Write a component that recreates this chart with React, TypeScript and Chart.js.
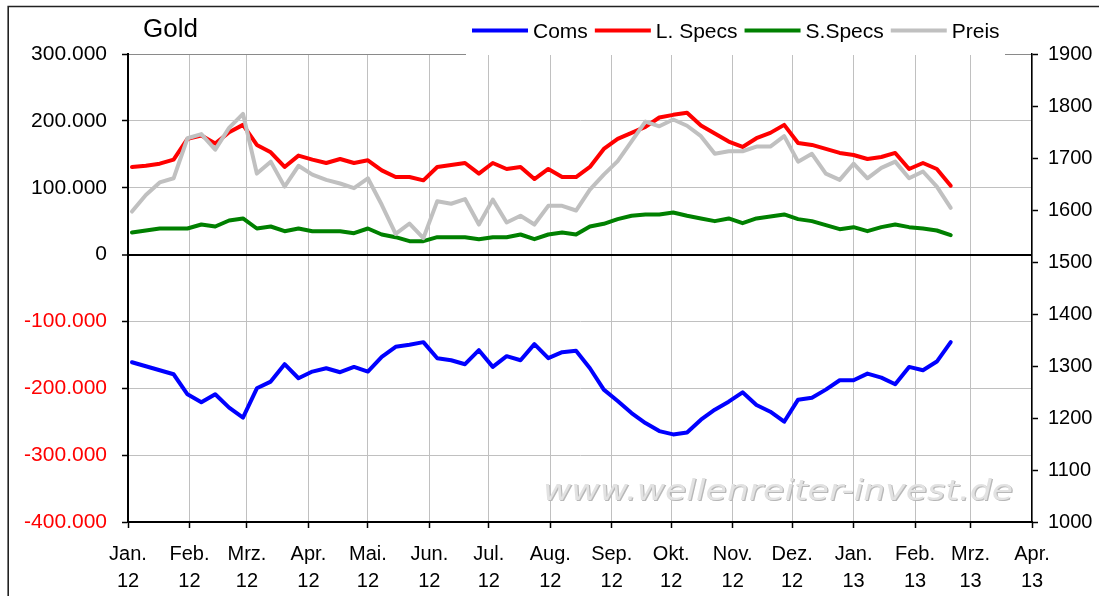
import React, { useEffect, useRef } from 'react';
import { Chart, registerables } from 'chart.js';

Chart.register(...registerables);

const chartTitle = 'Gold';
const watermark = 'www.wellenreiter-invest.de';

const weekDates = [
  '2012-01-03', '2012-01-10', '2012-01-17', '2012-01-24', '2012-01-31',
  '2012-02-07', '2012-02-14', '2012-02-21', '2012-02-28',
  '2012-03-06', '2012-03-13', '2012-03-20', '2012-03-27',
  '2012-04-03', '2012-04-10', '2012-04-17', '2012-04-24',
  '2012-05-01', '2012-05-08', '2012-05-15', '2012-05-22', '2012-05-29',
  '2012-06-05', '2012-06-12', '2012-06-19', '2012-06-26',
  '2012-07-03', '2012-07-10', '2012-07-17', '2012-07-24', '2012-07-31',
  '2012-08-07', '2012-08-14', '2012-08-21', '2012-08-28',
  '2012-09-04', '2012-09-11', '2012-09-18', '2012-09-25',
  '2012-10-02', '2012-10-09', '2012-10-16', '2012-10-23', '2012-10-30',
  '2012-11-06', '2012-11-13', '2012-11-20', '2012-11-27',
  '2012-12-04', '2012-12-11', '2012-12-18', '2012-12-25',
  '2013-01-01', '2013-01-08', '2013-01-15', '2013-01-22', '2013-01-29',
  '2013-02-05', '2013-02-12', '2013-02-19',
];

const monthTickDates = [
  '2012-01-01', '2012-02-01', '2012-03-01', '2012-04-01', '2012-05-01', '2012-06-01',
  '2012-07-01', '2012-08-01', '2012-09-01', '2012-10-01', '2012-11-01', '2012-12-01',
  '2013-01-01', '2013-02-01', '2013-03-01', '2013-04-01',
];
const monthLabels = ['Jan.', 'Feb.', 'Mrz.', 'Apr.', 'Mai.', 'Jun.', 'Jul.', 'Aug.', 'Sep.', 'Okt.', 'Nov.', 'Dez.', 'Jan.', 'Feb.', 'Mrz.', 'Apr.'];
const yearLabels = ['12', '12', '12', '12', '12', '12', '12', '12', '12', '12', '12', '12', '13', '13', '13', '13'];

const coms = [
  -161000, -167000, -173000, -179000, -209000, -221000, -209000, -229000, -244000, -200000,
  -190000, -164000, -185000, -175000, -170000, -176000, -168000, -175000, -153000, -138000,
  -135000, -131000, -155000, -158000, -164000, -143000, -168000, -152000, -158000, -134000,
  -155000, -146000, -144000, -170000, -202000, -219000, -237000, -252000, -264000, -269000,
  -266000, -247000, -232000, -220000, -206000, -225000, -235000, -250000, -217000, -214000,
  -202000, -188000, -188000, -178000, -184000, -194000, -168000, -173000, -160000, -131000,
];
const lSpecs = [
  131000, 133000, 136000, 142000, 173000, 178000, 166000, 183000, 194000, 164000,
  153000, 131000, 148000, 142000, 137000, 143000, 137000, 141000, 126000, 116000,
  116000, 111000, 131000, 134000, 137000, 121000, 137000, 128000, 131000, 113000,
  128000, 116000, 116000, 131000, 158000, 173000, 182000, 191000, 205000, 209000,
  212000, 193000, 181000, 169000, 161000, 174000, 182000, 194000, 167000, 164000,
  158000, 152000, 149000, 143000, 146000, 152000, 128000, 137000, 128000, 103000,
];
const sSpecs = [
  33000, 36000, 39000, 39000, 39000, 45000, 42000, 51000, 54000, 39000,
  42000, 35000, 39000, 35000, 35000, 35000, 32000, 39000, 30000, 26000,
  20000, 20000, 26000, 26000, 26000, 23000, 26000, 26000, 30000, 23000,
  30000, 33000, 30000, 42000, 46000, 53000, 58000, 60000, 60000, 63000,
  58000, 54000, 50000, 54000, 47000, 54000, 57000, 60000, 53000, 50000,
  44000, 38000, 41000, 35000, 41000, 45000, 41000, 39000, 36000, 29000,
];
const preis = [
  1597, 1629, 1653, 1661, 1738, 1746, 1716, 1758, 1785, 1670,
  1693, 1645, 1685, 1668, 1658, 1651, 1642, 1661, 1610, 1554,
  1574, 1546, 1617, 1612, 1621, 1572, 1620, 1576, 1589, 1572,
  1608, 1608, 1599, 1639, 1668, 1694, 1732, 1770, 1761, 1774,
  1762, 1742, 1708, 1713, 1713, 1722, 1722, 1742, 1693, 1708,
  1670, 1658, 1689, 1661, 1681, 1693, 1661, 1674, 1645, 1604,
];

const seriesNames = ['Coms', 'L. Specs', 'S.Specs', 'Preis'];
const seriesColors = ['#0000FF', '#FF0000', '#008000', '#C0C0C0'];

const leftMin = -400000;
const leftMax = 300000;
const leftStep = 100000;
const rightMin = 1000;
const rightMax = 1900;
const rightStep = 100;

const FONT = '"Liberation Sans", Arial, Helvetica, sans-serif';

function dayNum(s: string): number {
  const [y, m, d] = s.split('-').map(Number);
  return (Date.UTC(y, m - 1, d) - Date.UTC(2012, 0, 1)) / 86400000;
}

function fmtDe(v: number): string {
  const neg = v < 0;
  const s = String(Math.round(Math.abs(v))).replace(/\B(?=(\d{3})+(?!\d))/g, '.');
  return (neg ? '-' : '') + s;
}

const monthDays = monthTickDates.map(dayNum);
const weekDays = weekDates.map(dayNum);

const decorPlugin = {
  id: 'decor',
  beforeDatasetsDraw(chart: any) {
    const ctx = chart.ctx;
    ctx.save();
    ctx.font = 'italic 28px "DejaVu Sans", Verdana, sans-serif';
    const w = ctx.measureText(watermark).width;
    const sx = 470 / w;
    ctx.translate(543, 500);
    ctx.scale(sx, 1);
    ctx.textBaseline = 'alphabetic';
    ctx.textAlign = 'left';
    ctx.fillStyle = '#b8b8b8';
    ctx.fillText(watermark, 1, 1);
    ctx.fillStyle = '#e2e2e2';
    ctx.fillText(watermark, 0, 0);
    ctx.restore();
  },
  afterDraw(chart: any) {
    const ctx = chart.ctx;
    ctx.save();
    // outer frame
    ctx.strokeStyle = '#222';
    ctx.lineWidth = 1.6;
    ctx.beginPath();
    ctx.moveTo(8.2, 600);
    ctx.lineTo(8.2, 6.5);
    ctx.lineTo(1100, 6.5);
    ctx.stroke();

    // legend box
    ctx.fillStyle = '#ffffff';
    ctx.fillRect(466, 9, 539, 46);

    ctx.font = '21px ' + FONT;
    ctx.textBaseline = 'alphabetic';
    ctx.textAlign = 'left';
    let x = 472;
    seriesNames.forEach((name, i) => {
      ctx.strokeStyle = seriesColors[i];
      ctx.lineWidth = 4;
      ctx.lineCap = 'butt';
      ctx.beginPath();
      ctx.moveTo(x, 30.5);
      ctx.lineTo(x + 56, 30.5);
      ctx.stroke();
      ctx.fillStyle = '#000';
      ctx.fillText(name, x + 61, 37.5);
      x += 61 + ctx.measureText(name).width + 7;
    });

    // title
    ctx.font = '26px ' + FONT;
    ctx.fillStyle = '#000';
    ctx.fillText(chartTitle, 143, 37);
    ctx.restore();
  },
};

export default function App() {
  const canvasRef = useRef<HTMLCanvasElement | null>(null);

  useEffect(() => {
    const canvas = canvasRef.current;
    if (!canvas) return;
    const mk = (vals: number[]) => vals.map((v, i) => ({ x: weekDays[i], y: v }));
    const lineBase = {
      borderWidth: 4,
      pointRadius: 0,
      pointHoverRadius: 0,
      fill: false,
      tension: 0,
      borderJoinStyle: 'round' as const,
      borderCapStyle: 'round' as const,
    };
    const chart = new Chart(canvas, {
      type: 'line',
      data: {
        datasets: [
          { ...lineBase, label: seriesNames[0], data: mk(coms), borderColor: seriesColors[0], yAxisID: 'y', order: 1 },
          { ...lineBase, label: seriesNames[1], data: mk(lSpecs), borderColor: seriesColors[1], yAxisID: 'y', order: 2 },
          { ...lineBase, label: seriesNames[2], data: mk(sSpecs), borderColor: seriesColors[2], yAxisID: 'y', order: 3 },
          { ...lineBase, label: seriesNames[3], data: mk(preis), borderColor: seriesColors[3], yAxisID: 'y2', order: 0 },
        ],
      },
      options: {
        responsive: false,
        maintainAspectRatio: false,
        animation: false,
        devicePixelRatio: 1,
        events: [],
        layout: { padding: { top: 54, left: 0, right: 0, bottom: 0 } },
        plugins: {
          legend: { display: false },
          title: { display: false },
          tooltip: { enabled: false },
        },
        scales: {
          x: {
            type: 'linear',
            min: monthDays[0],
            max: monthDays[monthDays.length - 1],
            afterBuildTicks: (scale: any) => {
              scale.ticks = monthDays.map((v) => ({ value: v }));
            },
            afterFit: (scale: any) => {
              scale.height = 74;
            },
            grid: {
              color: '#c0c0c0',
              lineWidth: 1,
              tickColor: '#000',
              tickLength: 6,
              tickWidth: 1.5,
            },
            border: { display: true, color: '#000', width: 2 },
            ticks: {
              autoSkip: false,
              maxRotation: 0,
              minRotation: 0,
              padding: 13,
              color: '#000',
              font: { family: FONT, size: 20, lineHeight: 1.35 },
              callback: (value: any) => {
                const idx = monthDays.indexOf(Number(value));
                return idx >= 0 ? [monthLabels[idx], yearLabels[idx]] : '';
              },
            },
          },
          y: {
            type: 'linear',
            position: 'left',
            min: leftMin,
            max: leftMax,
            afterFit: (scale: any) => {
              scale.width = 128;
            },
            grid: {
              color: (c: any) => (c.tick && c.tick.value === 0 ? '#000' : c.tick && c.tick.value === leftMax ? '#8a8a8a' : '#c0c0c0'),
              lineWidth: (c: any) => (c.tick && c.tick.value === 0 ? 2 : 1),
              tickColor: '#000',
              tickLength: 6,
              tickWidth: 1.5,
            },
            border: { display: true, color: '#000', width: 2 },
            ticks: {
              stepSize: leftStep,
              padding: 15,
              color: (c: any) => (c.tick && c.tick.value < 0 ? '#FF0000' : '#000'),
              font: { family: FONT, size: 21 },
              callback: (value: any) => fmtDe(Number(value)),
            },
          },
          y2: {
            type: 'linear',
            position: 'right',
            min: rightMin,
            max: rightMax,
            afterFit: (scale: any) => {
              scale.width = 67;
            },
            grid: {
              drawOnChartArea: false,
              tickColor: '#000',
              tickLength: 6,
              tickWidth: 1.5,
            },
            border: { display: true, color: '#000', width: 1.5 },
            ticks: {
              stepSize: rightStep,
              padding: 10,
              color: '#000',
              font: { family: FONT, size: 20 },
              callback: (value: any) => String(value),
            },
          },
        },
      },
      plugins: [decorPlugin],
    } as any);
    return () => {
      chart.destroy();
    };
  }, []);

  return (
    <div style={{ position: 'fixed', left: 0, top: 0, width: 1099, height: 596, background: '#fff', overflow: 'hidden' }}>
      <canvas ref={canvasRef} width={1099} height={596} style={{ display: 'block', width: 1099, height: 596 }} />
    </div>
  );
}
